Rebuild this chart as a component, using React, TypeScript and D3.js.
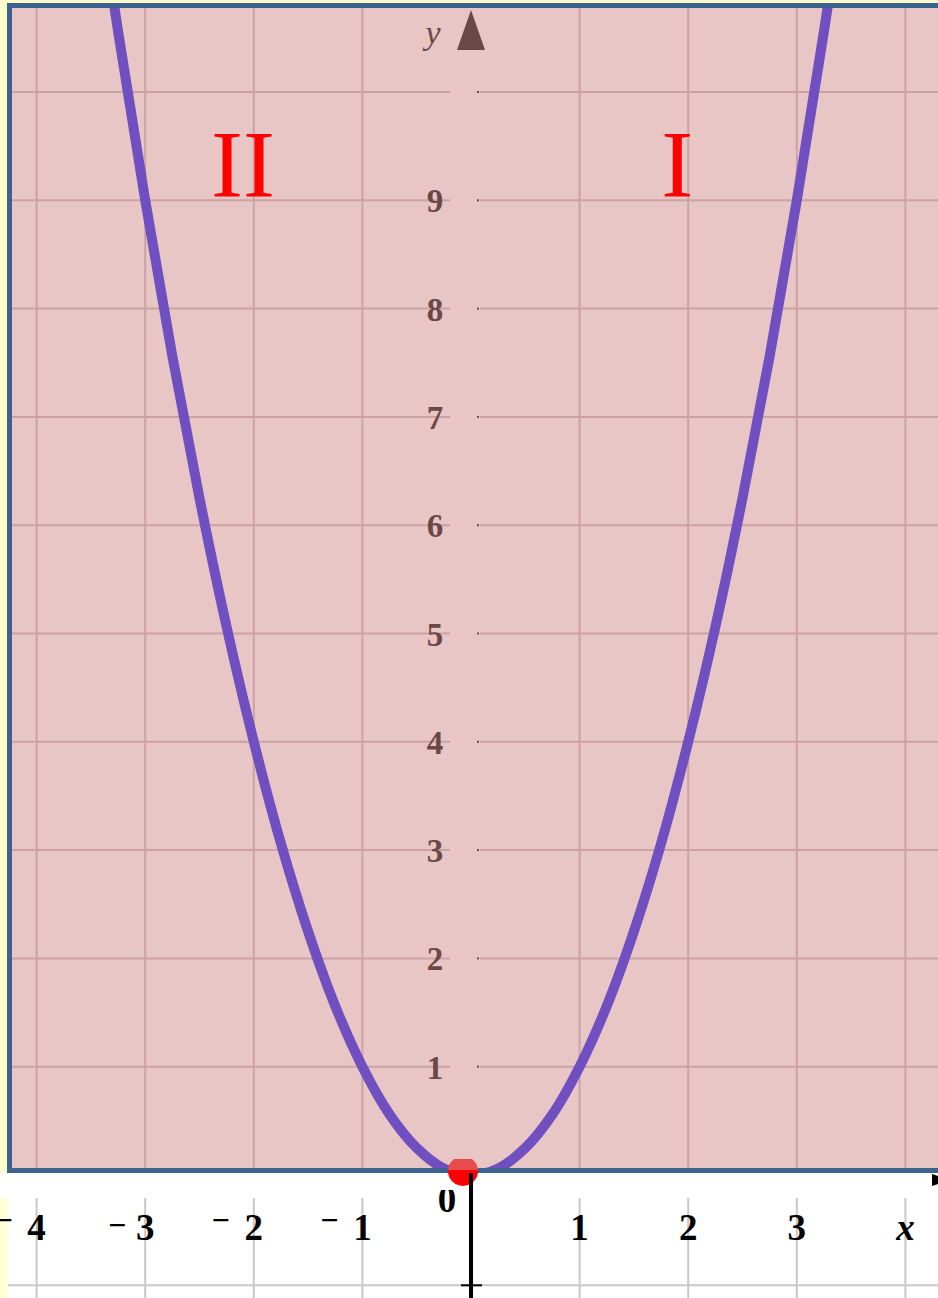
import * as d3 from 'd3'

// x-axis tick labels (x = 0 is handled separately)
const xTickValues = [-4, -3, -2, -1, 1, 2, 3]
const xTickLabels = ['4', '3', '2', '1', '1', '2', '3']
const xGridValues = [-4, -3, -2, -1, 1, 2, 3, 4]
// y-axis tick labels
const yTickValues = [1, 2, 3, 4, 5, 6, 7, 8, 9]
const yGridValues = [1, 2, 3, 4, 5, 6, 7, 8, 9, 10]
// points
const curveX = [
  -3.5, -3.25, -3, -2.75, -2.5, -2.25, -2, -1.75, -1.5, -1.25, -1, -0.75, -0.5, -0.25, 0,
  0.25, 0.5, 0.75, 1, 1.25, 1.5, 1.75, 2, 2.25, 2.5, 2.75, 3, 3.25, 3.5,
]
const curveY = [
  12.25, 10.56, 9, 7.56, 6.25, 5.06, 4, 3.06, 2.25, 1.56, 1, 0.56, 0.25, 0.06, 0,
  0.06, 0.25, 0.56, 1, 1.56, 2.25, 3.06, 4, 5.06, 6.25, 7.56, 9, 10.56, 12.25,
]
// quadrant labels
const quadrants = [
  { label: 'II', x: -2.1 },
  { label: 'I', x: 1.9 },
]

const W = 938
const H = 1298

export default function App() {
  const x = d3.scaleLinear().domain([-4, 4]).range([36.6, 905.4])
  const y = d3.scaleLinear().domain([0, 10]).range([1175, 92])

  const panel = { left: 9.5, top: 5.5, right: 960, bottom: 1170.5 }

  const pts = curveX.map((v, i) => [v, curveY[i]] as [number, number])
  const line = d3
    .line<[number, number]>()
    .x(d => x(d[0]))
    .y(d => y(d[1]))
    .curve(d3.curveCatmullRom.alpha(0.5))

  const x0 = x(0)
  const serif = '"Liberation Serif", "DejaVu Serif", serif'

  return (
    <svg
      width={W}
      height={H}
      viewBox={`0 0 ${W} ${H}`}
      style={{ position: 'absolute', left: 0, top: 0, display: 'block' }}
    >
      <defs>
        <clipPath id="panel-clip">
          <rect x={panel.left} y={panel.top} width={panel.right - panel.left} height={panel.bottom - panel.top} />
        </clipPath>
        <clipPath id="dot-top">
          <rect x={440} y={1159} width={50} height={11} />
        </clipPath>
        <clipPath id="dot-bottom">
          <rect x={440} y={1170} width={50} height={30} />
        </clipPath>
        <clipPath id="zero-clip">
          <rect x={430} y={1190} width={40} height={40} />
        </clipPath>
      </defs>

      {/* page background */}
      <rect x={0} y={0} width={W} height={H} fill="#ffffff" />
      <rect x={0} y={0} width={W} height={1172} fill="#ffffcc" />
      <rect x={0} y={1198} width={8} height={H - 1198} fill="#ffffd6" />

      {/* lower white area grid */}
      <g stroke="#c8c8c8" strokeWidth={2}>
        {xGridValues.map(v => (
          <line key={'wg' + v} x1={x(v)} x2={x(v)} y1={1198} y2={H} />
        ))}
        <line x1={8} x2={W} y1={y(-1) + 2} y2={y(-1) + 2} />
      </g>

      {/* pink panel */}
      <rect
        x={panel.left}
        y={panel.top}
        width={panel.right - panel.left}
        height={panel.bottom - panel.top}
        fill="#e9c6c6"
      />
      <g clipPath="url(#panel-clip)" stroke="#cba2a2" strokeWidth={2}>
        {xGridValues.map(v => (
          <line key={'vg' + v} x1={x(v)} x2={x(v)} y1={panel.top} y2={panel.bottom} />
        ))}
        {yGridValues.map(v => (
          <g key={'hg' + v}>
            <line x1={panel.left} x2={450} y1={y(v)} y2={y(v)} />
            <line x1={480} x2={panel.right} y1={y(v)} y2={y(v)} />
          </g>
        ))}
      </g>
      {/* small tick dots on the y axis */}
      <g fill="#6b4848">
        {yGridValues.map(v => (
          <rect key={'td' + v} x={477} y={y(v) - 1} width={2} height={2} />
        ))}
      </g>

      {/* y tick labels */}
      <g
        fill="#6b4848"
        fontFamily={serif}
        fontWeight="bold"
        fontSize={33}
        textAnchor="middle"
        dominantBaseline="central"
      >
        {yTickValues.map(v => (
          <text key={'yl' + v} x={435} y={y(v) + 1}>
            {v}
          </text>
        ))}
      </g>

      {/* y axis arrow + label */}
      <path d={`M${x0 - 14},50 L${x0},10 L${x0 + 14},50 Z`} fill="#6b4848" />
      <text x={433} y={44} fill="#6b4848" fontFamily={serif} fontStyle="italic" fontSize={34} textAnchor="middle">
        y
      </text>

      {/* quadrant labels */}
      <g fill="#ff0000" fontFamily={serif} fontSize={96} textAnchor="middle">
        {quadrants.map(q => (
          <text key={q.label} x={x(q.x)} y={197}>
            {q.label}
          </text>
        ))}
      </g>

      {/* parabola */}
      <path
        d={line(pts) || ''}
        clipPath="url(#panel-clip)"
        fill="none"
        stroke="#7050c0"
        strokeWidth={10}
      />

      {/* panel border */}
      <rect
        x={panel.left}
        y={panel.top}
        width={panel.right - panel.left}
        height={panel.bottom - panel.top}
        fill="none"
        stroke="#3c6290"
        strokeWidth={5}
      />

      {/* origin dot */}
      <circle cx={463} cy={1171} r={15} fill="#e84c4c" clipPath="url(#dot-top)" />
      <circle cx={463} cy={1171} r={15} fill="#ff0000" clipPath="url(#dot-bottom)" />

      {/* black y axis below the panel */}
      <line x1={x0} x2={x0} y1={1173} y2={H} stroke="#000" strokeWidth={4} />
      <line x1={x0 - 10} x2={x0 + 11} y1={y(-1) + 2} y2={y(-1) + 2} stroke="#000" strokeWidth={2} />
      {/* x axis arrow at the right edge */}
      <path d="M932,1174 L950,1180 L932,1186 Z" fill="#000" />

      {/* x tick labels */}
      <g fill="#000" fontFamily={serif} fontWeight="bold" fontSize={37}>
        {xTickValues.map((v, i) => (
          <g key={'xl' + v}>
            <text x={x(v)} y={1240} textAnchor="middle">
              {xTickLabels[i]}
            </text>
            {v < 0 && (
              <text x={x(v) - (v === -3 ? 19 : 24)} y={v === -3 ? 1236 : 1231} textAnchor="end" fontSize={32}>
                −
              </text>
            )}
          </g>
        ))}
        <text x={x(4)} y={1240} textAnchor="middle" fontStyle="italic">
          x
        </text>
        <text x={447} y={1212} textAnchor="middle" clipPath="url(#zero-clip)">
          0
        </text>
      </g>
    </svg>
  )
}
